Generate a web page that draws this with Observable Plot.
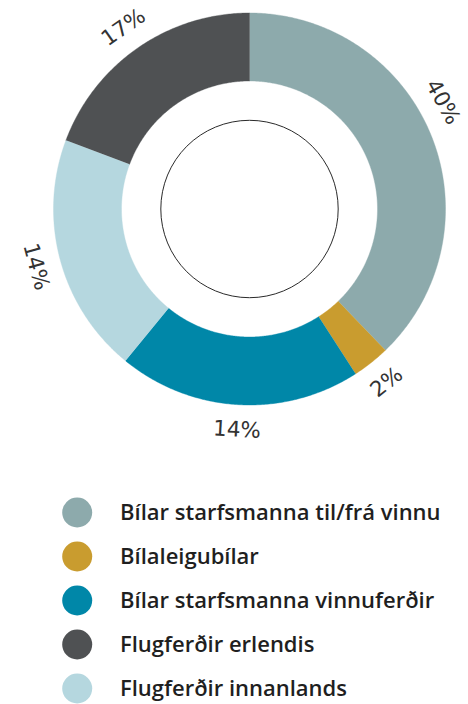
<!DOCTYPE html>
<html>
<head>
<meta charset="utf-8">
<script src="https://cdn.jsdelivr.net/npm/d3@7"></script>
<script src="https://cdn.jsdelivr.net/npm/@observablehq/plot@0.6"></script>
<style>
  html, body { margin: 0; padding: 0; background: #fff; }
  #chart svg, #legend svg { display: block; }
</style>
</head>
<body>
<div id="chart"></div>
<div id="legend"></div>
<script>
// Categories in legend order
const categories = [
  "Bílar starfsmanna til/frá vinnu",
  "Bílaleigubílar",
  "Bílar starfsmanna vinnuferðir",
  "Flugferðir erlendis",
  "Flugferðir innanlands"
];
// Share of the circle each slice covers (%)
const shares = [37.8, 3.1, 20.0, 19.3, 19.8];
// Printed labels on the chart
const labels = ["40%", "2%", "14%", "17%", "14%"];
// Clockwise drawing order starting at 12 o'clock (indices into categories)
const sliceOrder = [0, 1, 2, 4, 3];
const colors = ["#8daaac", "#c99c2f", "#0087a8", "#4f5153", "#b5d7df"];

// geometry constants (chart units = pixels)
const W = 468, H = 480;
const CX = 249, CY = 208.5;
const R_OUT = 196, R_IN = 128, R_RING = 88.7, R_LABEL = 221;
const LABEL_SIZE = 21.5;

const total = d3.sum(shares);
const slices = [];
let acc = 0;
for (const i of sliceOrder) {
  const a0 = acc / total * 2 * Math.PI;
  acc += shares[i];
  const a1 = acc / total * 2 * Math.PI;
  slices.push({cat: categories[i], label: labels[i], a0, a1});
}

const rows = [];
for (const s of slices) {
  const n = Math.max(4, Math.ceil((s.a1 - s.a0) / (Math.PI / 360)));
  for (let k = 0; k <= n; k++) {
    const a = s.a0 + (s.a1 - s.a0) * k / n;
    rows.push({cat: s.cat, x: R_OUT * Math.sin(a), y: R_OUT * Math.cos(a)});
  }
  for (let k = n; k >= 0; k--) {
    const a = s.a0 + (s.a1 - s.a0) * k / n;
    rows.push({cat: s.cat, x: R_IN * Math.sin(a), y: R_IN * Math.cos(a)});
  }
}

function rotFor(m) {
  const deg = m * 180 / Math.PI;
  if (deg > 90 && deg < 270) return deg - 180;
  if (deg >= 270) return deg - 360;
  return deg;
}
// place labels at the slice middle, sliding along the ring if they would leave the frame
const labelRows = slices.map(s => {
  let m = (s.a0 + s.a1) / 2;
  const tw = s.label.length * 0.62 * LABEL_SIZE;
  const step = (m < Math.PI ? -1 : 1) * Math.PI / 360;
  for (let it = 0; it < 200; it++) {
    const r = rotFor(m) * Math.PI / 180;
    const ext = tw / 2 * Math.abs(Math.cos(r)) + LABEL_SIZE / 2 * Math.abs(Math.sin(r));
    const px = CX + R_LABEL * Math.sin(m);
    if (px + ext <= W - 6 && px - ext >= 6) break;
    m += step;
  }
  return {text: s.label, x: R_LABEL * Math.sin(m), y: R_LABEL * Math.cos(m), rot: rotFor(m)};
});

const colorScale = {domain: categories, range: colors};

const chart = Plot.plot({
  width: W,
  height: H,
  margin: 0,
  x: {domain: [-CX, W - CX], range: [0, W], axis: null},
  y: {domain: [-(H - CY), CY], range: [H, 0], axis: null},
  color: colorScale,
  style: {background: "white"},
  marks: [
    Plot.line(rows, {x: "x", y: "y", z: "cat", fill: "cat", stroke: "cat", strokeWidth: 0.4, curve: "linear"}),
    Plot.dot([0], {x: () => 0, y: () => 0, r: R_RING, fill: "none", stroke: "#2a2a2a", strokeWidth: 1}),
    Plot.text(labelRows, {
      x: "x", y: "y", text: "text", rotate: "rot",
      fontSize: LABEL_SIZE, fontWeight: 400, fontFamily: "DejaVu Sans", fill: "#333333"
    })
  ]
});
document.getElementById("chart").appendChild(chart);

const legend = Plot.plot({
  width: W,
  height: 224,
  margin: 0,
  x: {domain: [0, W], range: [0, W], axis: null},
  y: {type: "point", domain: categories, range: [31.5, 209], padding: 0, axis: null},
  color: colorScale,
  marks: [
    Plot.dot(categories, {x: () => 76.7, y: d => d, r: 15, fill: d => d, stroke: "none"}),
    Plot.text(categories, {
      x: () => 119.5, y: d => d, text: d => d, textAnchor: "start",
      fontSize: 22, fontWeight: 600, fontFamily: "Open Sans", fill: "#1f1f1f"
    })
  ]
});
document.getElementById("legend").appendChild(legend);
</script>
</body>
</html>
